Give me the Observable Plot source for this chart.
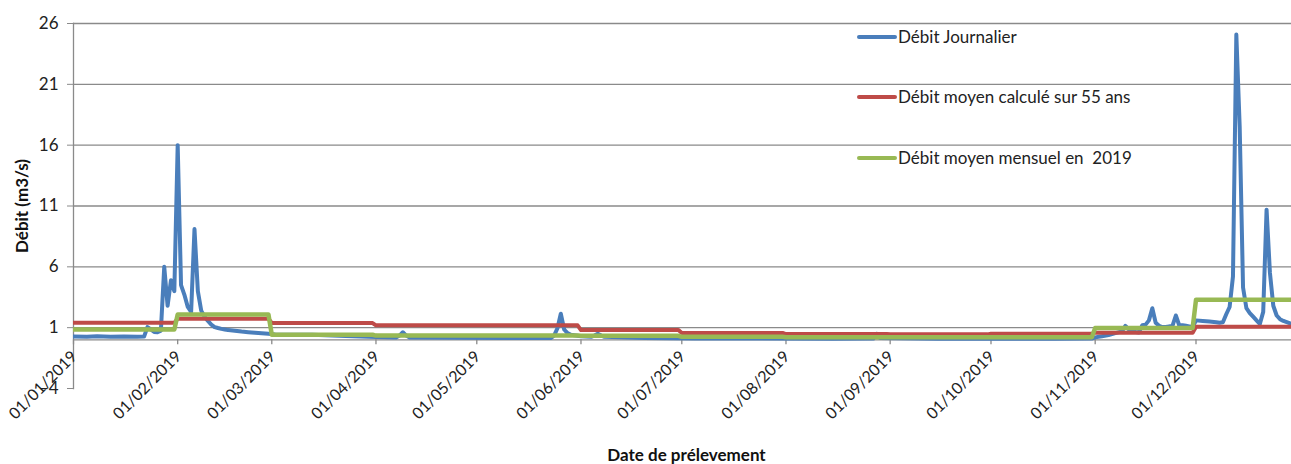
<!DOCTYPE html>
<html>
<head>
<meta charset="utf-8">
<script src="https://cdn.jsdelivr.net/npm/d3@7"></script>
<script src="https://cdn.jsdelivr.net/npm/@observablehq/plot@0.6"></script>
<style>
  html, body { margin: 0; padding: 0; background: #fff; }
  #wrap { position: relative; width: 1291px; height: 464px; overflow: hidden; font-family: Lato, "Open Sans", sans-serif; }
  .lg { position: absolute; left: 857px; display: flex; align-items: center; font-size: 17px; color: #222; white-space: pre; }
  .lg .sw { width: 40px; height: 4px; border-radius: 2px; margin-right: 1px; }
</style>
</head>
<body>
<div id="wrap"><div id="chart"></div><div id="legend"></div></div>
<script>
// ---- Data ----
const dailyDates = [
  "2019-01-01","2019-01-05","2019-01-08","2019-01-12","2019-01-16","2019-01-20","2019-01-22","2019-01-23","2019-01-24","2019-01-25",
  "2019-01-26","2019-01-27","2019-01-28","2019-01-29","2019-01-30","2019-01-31","2019-02-01","2019-02-02","2019-02-03","2019-02-04",
  "2019-02-05","2019-02-06","2019-02-07","2019-02-08","2019-02-09","2019-02-10","2019-02-11","2019-02-12","2019-02-13","2019-02-14",
  "2019-02-15","2019-02-16","2019-02-18","2019-02-20","2019-02-22","2019-02-24","2019-02-26","2019-02-28","2019-03-02","2019-03-05",
  "2019-03-13","2019-03-23","2019-04-01","2019-04-07","2019-04-08","2019-04-09","2019-04-10","2019-04-11","2019-04-25","2019-05-10",
  "2019-05-23","2019-05-24","2019-05-25","2019-05-26","2019-05-27","2019-05-28","2019-05-29","2019-06-01","2019-06-04","2019-06-05",
  "2019-06-06","2019-06-07","2019-06-08","2019-06-20","2019-07-05","2019-07-25","2019-08-15","2019-08-27","2019-08-28","2019-08-29",
  "2019-09-15","2019-10-01","2019-10-20","2019-10-31","2019-11-01","2019-11-03","2019-11-05","2019-11-07","2019-11-09","2019-11-10",
  "2019-11-11","2019-11-12","2019-11-13","2019-11-14","2019-11-15","2019-11-16","2019-11-17","2019-11-18","2019-11-19","2019-11-20",
  "2019-11-21","2019-11-22","2019-11-23","2019-11-24","2019-11-25","2019-11-26","2019-11-27","2019-11-28","2019-11-29","2019-11-30",
  "2019-12-01","2019-12-03","2019-12-05","2019-12-07","2019-12-08","2019-12-09","2019-12-10","2019-12-11","2019-12-12","2019-12-13",
  "2019-12-14","2019-12-15","2019-12-16","2019-12-17","2019-12-18","2019-12-19","2019-12-20","2019-12-21","2019-12-22","2019-12-23",
  "2019-12-24","2019-12-25","2019-12-26","2019-12-27","2019-12-28","2019-12-29","2019-12-30","2019-12-31"
];
const dailyFlow = [
  0.28, 0.25, 0.30, 0.25, 0.28, 0.25, 0.27, 1.05, 0.85, 0.65,
  0.62, 0.75, 6.0, 2.8, 4.9, 4.0, 16.0, 4.5, 3.7, 2.7,
  2.3, 9.1, 4.0, 2.4, 1.9, 1.55, 1.25, 1.05, 0.97, 0.90,
  0.85, 0.80, 0.75, 0.68, 0.63, 0.58, 0.54, 0.50, 0.44, 0.42,
  0.42, 0.31, 0.23, 0.20, 0.35, 0.62, 0.35, 0.20, 0.18, 0.15,
  0.15, 0.35, 0.95, 2.15, 0.85, 0.55, 0.42, 0.30, 0.25, 0.35,
  0.50, 0.35, 0.25, 0.15, 0.10, 0.10, 0.08, 0.10, 0.50, 0.15,
  0.08, 0.08, 0.08, 0.10, 0.20, 0.30, 0.40, 0.55, 0.70, 1.15,
  0.85, 0.80, 0.65, 0.60, 1.20, 1.25, 1.60, 2.60, 1.40, 1.15,
  1.05, 1.05, 1.10, 1.15, 2.00, 1.20, 1.20, 1.15, 1.10, 1.05,
  1.60, 1.55, 1.50, 1.45, 1.40, 1.45, 2.10, 2.70, 5.20, 25.1,
  17.5, 4.30, 2.60, 2.20, 1.90, 1.60, 1.30, 2.30, 10.7, 5.50,
  2.80, 2.00, 1.70, 1.55, 1.45, 1.35, 1.30, 1.30
];
const monthStarts = ["2019-01-01","2019-02-01","2019-03-01","2019-04-01","2019-05-01","2019-06-01",
                     "2019-07-01","2019-08-01","2019-09-01","2019-10-01","2019-11-01","2019-12-01"];
const monthLabels = ["01/01/2019","01/02/2019","01/03/2019","01/04/2019","01/05/2019","01/06/2019",
                     "01/07/2019","01/08/2019","01/09/2019","01/10/2019","01/11/2019","01/12/2019"];
const meanFlow55 = [1.41, 1.74, 1.38, 1.19, 1.19, 0.80, 0.56, 0.47, 0.45, 0.51, 0.59, 1.08];
const meanFlow2019 = [0.84, 2.09, 0.42, 0.35, 0.35, 0.33, 0.25, 0.22, 0.22, 0.22, 0.98, 3.30];
const yTicks = [-4, 1, 6, 11, 16, 21, 26];
const gridTicks = [1, 6, 11, 16, 21, 26];
const seriesNames = ["Débit Journalier", "Débit moyen calculé sur 55 ans", "Débit moyen mensuel en  2019"];
const seriesColors = ["#4A7EBB", "#BE4B48", "#98B954"];
const yTitle = "Débit (m3/s)";
const xTitle = "Date de prélevement";

// ---- Build tables ----
const daily = dailyDates.map((d, i) => ({date: new Date(d), flow: dailyFlow[i]}));
const starts = monthStarts.map(d => new Date(d));
function monthlySteps(values) {
  const rows = [];
  starts.forEach((s, i) => {
    const end = d3.utcDay.offset(d3.utcMonth.offset(s, 1), -1);
    rows.push({date: s, v: values[i]}, {date: end, v: values[i]});
  });
  return rows;
}
const red = monthlySteps(meanFlow55);
const green = monthlySteps(meanFlow2019);
const tickRows = starts.map((d, i) => ({date: d, label: monthLabels[i]}));

const axisGray = "#8a8a8a";
const font = "Lato, 'Open Sans', sans-serif";

const chart = Plot.plot({
  width: 1291,
  height: 464,
  marginLeft: 73,
  marginRight: 0,
  marginTop: 23,
  marginBottom: 76,
  style: {fontFamily: font, background: "white", color: "#222"},
  x: {type: "utc", domain: [new Date("2019-01-01"), new Date("2019-12-29T10:00:00Z")], axis: null},
  y: {domain: [-4, 26], label: null},
  marks: [
    Plot.gridY(gridTicks, {stroke: axisGray, strokeOpacity: 1, strokeWidth: 1.3}),
    Plot.frame({anchor: "left", stroke: axisGray, strokeWidth: 1.3}),
    Plot.ruleY([0], {stroke: axisGray, strokeWidth: 1.3}),
    Plot.ruleX(starts, {x: d => d, y1: 0, y2: 0, insetBottom: -5, stroke: axisGray, strokeWidth: 1.3}),
    Plot.axisY(yTicks, {tickSize: 6, tickPadding: 9, stroke: axisGray, fill: "#222", fontSize: 17, label: null}),
    Plot.line(daily, {x: "date", y: "flow", stroke: seriesColors[0], strokeWidth: 4, strokeLinejoin: "round", clip: true}),
    Plot.line(red, {x: "date", y: "v", stroke: seriesColors[1], strokeWidth: 4, clip: true}),
    Plot.line(green, {x: "date", y: "v", stroke: seriesColors[2], strokeWidth: 4.5, clip: true}),
    Plot.text(tickRows, {x: "date", y: 0, text: "label", rotate: -45, textAnchor: "end", dx: 1, dy: 14, fontSize: 16, fill: "#222"}),
    Plot.text([yTitle], {frameAnchor: "left", textAnchor: "middle", lineAnchor: "middle", rotate: -90, dx: -51, dy: 0, fontWeight: "bold", fontSize: 17, fill: "#111"}),
    Plot.text([xTitle], {frameAnchor: "bottom", textAnchor: "middle", lineAnchor: "middle", dy: 67, dx: 4, fontWeight: "bold", fontSize: 17, fill: "#111"})
  ]
});
document.getElementById("chart").appendChild(chart);

// legend (HTML overlay, inside the plot area at top right)
const legendTops = [26, 86, 147];
const lg = document.getElementById("legend");
seriesNames.forEach((name, i) => {
  const row = document.createElement("div");
  row.className = "lg";
  row.style.top = legendTops[i] + "px";
  const sw = document.createElement("span");
  sw.className = "sw";
  sw.style.background = seriesColors[i];
  const t = document.createElement("span");
  t.textContent = name;
  row.appendChild(sw);
  row.appendChild(t);
  lg.appendChild(row);
});
</script>
</body>
</html>
